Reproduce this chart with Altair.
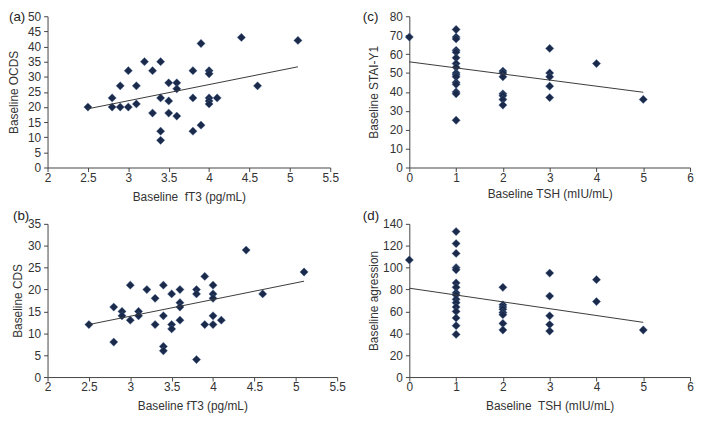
import altair as alt
import pandas as pd

FONT = "Liberation Sans"
MARK = "#1b2a4a"
INK = "#333333"

# ---- data ----
panel_labels = ["(a)", "(b)", "(c)", "(d)"]

# (a) Baseline fT3 vs Baseline OCDS
a_x = [2.5, 2.8, 2.8, 2.9, 2.9, 3.0, 3.0, 3.1, 3.1, 3.2, 3.3, 3.3, 3.4, 3.4, 3.4, 3.4,
       3.5, 3.5, 3.5, 3.6, 3.6, 3.6, 3.8, 3.8, 3.8, 3.9, 3.9, 4.0, 4.0, 4.0, 4.0, 4.0,
       4.1, 4.4, 4.6, 5.1]
a_y = [20, 23, 20, 27, 20, 32, 20, 27, 21, 35, 32, 18, 35, 23, 12, 9,
       28, 22, 18, 28, 26, 17, 32, 23, 12, 41, 14, 32, 31, 23, 22, 21,
       23, 43, 27, 42]
a_fit_x = [2.5, 5.1]
a_fit_y = [19.4, 33.3]

# (b) Baseline fT3 vs Baseline CDS
b_x = [2.5, 2.8, 2.8, 2.9, 2.9, 3.0, 3.0, 3.1, 3.1, 3.2, 3.3, 3.3, 3.4, 3.4, 3.4, 3.4,
       3.5, 3.5, 3.5, 3.6, 3.6, 3.6, 3.6, 3.8, 3.8, 3.8, 3.9, 3.9, 4.0, 4.0, 4.0, 4.0,
       4.0, 4.1, 4.4, 4.6, 5.1]
b_y = [12, 16, 8, 15, 14, 21, 13, 15, 14, 20, 18, 12, 21, 14, 7, 6,
       19, 12, 11, 20, 17, 16, 13, 20, 19, 4, 23, 12, 21, 19, 18, 14,
       12, 13, 29, 19, 24]
b_fit_x = [2.5, 5.1]
b_fit_y = [12.0, 21.9]

# (c) Baseline TSH vs Baseline STAI-Y1
c_x = [0, 1, 1, 1, 1, 1, 1, 1, 1, 1, 1, 1, 1, 1, 1, 1, 1,
       2, 2, 2, 2, 2, 2, 2, 3, 3, 3, 3, 3, 4, 5]
c_y = [69, 73, 69, 68, 62, 61, 58, 55, 53, 50, 49, 48, 45, 44, 40, 39, 25,
       51, 50, 48, 39, 38, 36, 33, 63, 50, 48, 43, 37, 55, 36]
c_fit_x = [0, 5]
c_fit_y = [55.9, 39.8]

# (d) Baseline TSH vs Baseline agression
d_x = [0, 1, 1, 1, 1, 1, 1, 1, 1, 1, 1, 1, 1, 1, 1, 1, 1,
       2, 2, 2, 2, 2, 2, 2, 2, 3, 3, 3, 3, 3, 4, 4, 5]
d_y = [107, 133, 122, 113, 100, 98, 86, 82, 77, 75, 71, 68, 64, 60, 54, 47, 39,
       82, 66, 64, 62, 59, 57, 49, 43, 95, 74, 56, 48, 42, 89, 69, 43]
d_fit_x = [0, 5]
d_fit_y = [81.2, 50.0]

fT3_ticks = [2, 2.5, 3, 3.5, 4, 4.5, 5, 5.5]
tsh_ticks = [0, 1, 2, 3, 4, 5, 6]


def panel(xs, ys, fx, fy, label, xdom, xvals, ydom, yvals, xtitle, ytitle,
          w, h, yext, ytp, xtp, lab_dx, lab_dy):
    xs_ = alt.Scale(domain=xdom, nice=False, zero=False)
    ys_ = alt.Scale(domain=ydom, nice=False)
    xax = alt.Axis(values=xvals, format="~g", titlePadding=xtp, labelPadding=1,
                   labelOverlap=False, labelFlush=False, labelBound=False)
    yax = alt.Axis(values=yvals, minExtent=yext, maxExtent=yext, titlePadding=ytp,
                   labelPadding=3, labelOverlap=False, labelFlush=False,
                   labelBound=False, tickCount=len(yvals))
    pts = alt.Chart(pd.DataFrame({"x": xs, "y": ys})).mark_point(
        shape="diamond", filled=True, size=70, color=MARK, opacity=1,
        stroke="#4d6d9e", strokeWidth=0.4
    ).encode(
        x=alt.X("x:Q", scale=xs_, title=xtitle, axis=xax),
        y=alt.Y("y:Q", scale=ys_, title=ytitle, axis=yax),
    )
    fit = alt.Chart(pd.DataFrame({"x": fx, "y": fy})).mark_line(
        color="#3a3a3a", strokeWidth=1
    ).encode(
        x=alt.X("x:Q", scale=xs_, title=xtitle, axis=xax),
        y=alt.Y("y:Q", scale=ys_, title=ytitle, axis=yax),
    )
    txt = alt.Chart(pd.DataFrame({"t": [label]})).mark_text(
        align="left", baseline="top", font=FONT, fontSize=13.5, color="#222222"
    ).encode(x=alt.value(lab_dx), y=alt.value(lab_dy), text="t:N")
    return alt.layer(pts, fit, txt).properties(width=w, height=h)


NB = "\u00a0"

pa = panel(a_x, a_y, a_fit_x, a_fit_y, panel_labels[0], [2, 5.5], fT3_ticks,
           [0, 50], list(range(0, 51, 5)), "Baseline" + NB + " fT3 (pg/mL)", "Baseline OCDS",
           286, 153, 20, 7, 8, -39, -6)
pc = panel(c_x, c_y, c_fit_x, c_fit_y, panel_labels[2], [0, 6], tsh_ticks,
           [0, 80], list(range(0, 81, 10)), "Baseline TSH (mIU/mL)", "Baseline STAI-Y1",
           284, 153, 20, 9, 5, -47, -6)
pb = panel(b_x, b_y, b_fit_x, b_fit_y, panel_labels[1], [2, 5.5], fT3_ticks,
           [0, 35], list(range(0, 36, 5)), "Baseline fT3 (pg/mL)", "Baseline CDS",
           293, 155, 20, 3, 8, -35, -15)
pd_ = panel(d_x, d_y, d_fit_x, d_fit_y, panel_labels[3], [0, 6], tsh_ticks,
            [0, 140], list(range(0, 141, 20)), "Baseline" + NB + " TSH (mIU/mL)", "Baseline agression",
            284, 155, 26, 3, 8, -47, -15)

row1 = alt.hconcat(pa, pc, spacing=24)
row2 = alt.hconcat(pb, pd_, spacing=17)

chart = alt.vconcat(row1, row2, spacing=7).properties(
    padding=0, background="white"
).configure_view(stroke=None).configure_axis(
    grid=False,
    labelFont=FONT, titleFont=FONT,
    labelFontSize=12, titleFontSize=12, titleFontWeight="normal",
    labelColor=INK, titleColor=INK,
    domainColor="#444444", tickColor="#444444",
    tickSize=4, domainWidth=1, tickWidth=1,
    labelOverlap=False, labelFlush=False,
)

chart.save("out.html", embed_options={"renderer": "svg", "actions": False})
